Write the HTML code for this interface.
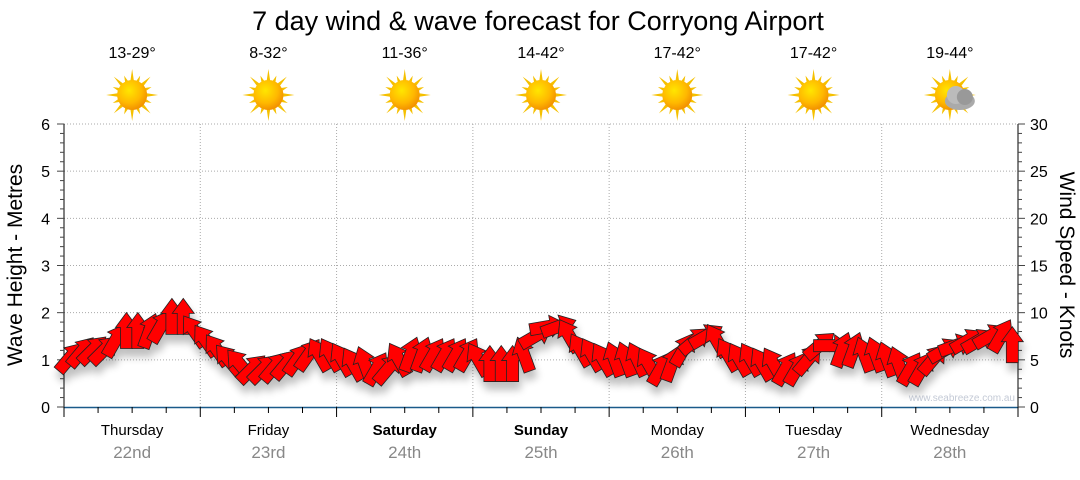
<!DOCTYPE html>
<html><head><meta charset="utf-8"><style>
body{margin:0;background:#fff;width:1080px;height:475px;overflow:hidden;font-family:"Liberation Sans","DejaVu Sans",sans-serif}
</style></head><body>
<svg id="chart" width="1080" height="475" xmlns="http://www.w3.org/2000/svg">
<defs>
<radialGradient id="sunG" cx="40%" cy="35%" r="70%"><stop offset="0" stop-color="#ffe600"/><stop offset="0.6" stop-color="#ffb800"/><stop offset="1" stop-color="#f08a00"/></radialGradient>
<filter id="sh" x="-50%" y="-50%" width="200%" height="200%"><feGaussianBlur in="SourceAlpha" stdDeviation="4"/><feOffset dx="2" dy="8"/><feComponentTransfer><feFuncA type="linear" slope="0.25"/></feComponentTransfer><feMerge><feMergeNode/><feMergeNode in="SourceGraphic"/></feMerge></filter>
</defs>
<text x="538" y="30" font-size="27" text-anchor="middle" fill="#000">7 day wind &amp; wave forecast for Corryong Airport</text>
<g id="grid"></g><g id="axes"></g><g id="top"></g>
<text x="1015" y="401" font-size="10" text-anchor="end" fill="#c4cad6">www.seabreeze.com.au</text>
<g id="arrows" filter="url(#sh)"></g>
<text transform="translate(22,265) rotate(-90)" font-size="21" text-anchor="middle">Wave Height - Metres</text>
<text transform="translate(1060,265) rotate(90)" font-size="21" text-anchor="middle">Wind Speed - Knots</text>
</svg>
<script>
const days=["Thursday","Friday","Saturday","Sunday","Monday","Tuesday","Wednesday"];
const dates=["22nd","23rd","24th","25th","26th","27th","28th"];
const boldDays=[false,false,true,true,false,false,false];
const temps=["13-29°","8-32°","11-36°","14-42°","17-42°","17-42°","19-44°"];
const cloudy=[false,false,false,false,false,false,true];
const waveTicks=[0,1,2,3,4,5,6];
const windTicks=[0,5,10,15,20,25,30];
const windSpeed=[5.2,5.8,6,6,7,8,8,8,8.5,9.5,9.5,8,
7,6,5,4.5,4,4,4.2,4.5,5,5.5,5.5,5.5,
5,4.5,4.5,4,4,5,5.5,5.5,5.5,5.5,5.5,5.5,
5,4.5,4.5,4.5,5.5,7.5,8.5,8.5,7.5,6,5.5,5,
5,5,5,4.5,4,4.5,6,7,7.5,7,5.5,5,
5,4.5,4.5,4,4,5,6.5,6.5,6,6,5.5,5.5,
5,4.5,4,4,5,6,6.5,7,7,7.5,7.5,6.5];
const windDir=[40,40,45,45,30,0,0,20,30,0,0,-35,
-35,-35,-40,-40,45,45,40,40,35,35,-30,-30,
-30,-30,-20,30,40,-30,20,20,30,30,30,30,
-30,0,0,0,-20,60,80,70,-30,-30,-30,-30,
-20,-20,-25,-30,30,20,30,50,60,-30,-30,-30,
-30,-30,-30,30,30,40,50,90,20,20,-20,-20,
-20,-20,30,30,40,60,70,60,60,60,30,0];
const NS="http://www.w3.org/2000/svg";
const X0=64,X1=1018,Y0=407,Y6=124;
const dayW=(X1-X0)/7;
const yWave=v=>Y0-(Y0-Y6)*v/6;
const yWind=v=>Y0-(Y0-Y6)*v/30;
const xHour=h=>X0+dayW*h/24;
function mk(tag,attrs,parent,txt){const e=document.createElementNS(NS,tag);for(const k in attrs)e.setAttribute(k,attrs[k]);if(txt!==undefined)e.textContent=txt;document.getElementById(parent).appendChild(e);return e;}
waveTicks.forEach(v=>{if(v>0){const l=mk('line',{x1:X0,x2:X1,y1:yWave(v),y2:yWave(v),stroke:'#aaa','stroke-dasharray':'1,2'},'grid');

}});
for(let d=1;d<7;d++){const l=mk('line',{x1:X0+d*dayW,x2:X0+d*dayW,y1:Y6,y2:Y0,stroke:'#aaa','stroke-dasharray':'1,2'},'grid');

}
mk('line',{x1:X0,x2:X0,y1:Y6,y2:Y0,stroke:'#000'},'axes');
mk('line',{x1:X1,x2:X1,y1:Y6,y2:Y0,stroke:'#000'},'axes');
const base=mk('line',{x1:X0,x2:X1,y1:Y0+0.5,y2:Y0+0.5,stroke:'#1a5a8a','stroke-width':1.5},'axes');


for(let i=0;i<=30;i++){const y=yWind(i);mk('line',{x1:X0-(i%5?4:7),x2:X0,y1:y,y2:y,stroke:'#444'},'axes');mk('line',{x1:X1,x2:X1+(i%5?4:7),y1:y,y2:y,stroke:'#444'},'axes');}
waveTicks.forEach(v=>{const t=mk('text',{x:50,y:yWave(v)+6,'font-size':16,'text-anchor':'end'},'axes',String(v));

});
windTicks.forEach(v=>{const t=mk('text',{x:1030,y:yWind(v)+6,'font-size':16},'axes',String(v));

});
for(let h=0;h<=168;h+=6){const x=xHour(h);mk('line',{x1:x,x2:x,y1:Y0,y2:Y0+(h%24?6:10),stroke:'#000'},'axes');}
days.forEach((d,i)=>{const cx=X0+dayW*(i+0.5);
const t=mk('text',{x:cx,y:435,'font-size':15,'text-anchor':'middle','font-weight':boldDays[i]?'bold':'normal'},'axes',d);


const t2=mk('text',{x:cx,y:458,'font-size':17,'text-anchor':'middle',fill:'#888'},'axes',dates[i]);


const t3=mk('text',{x:cx,y:58,'font-size':16,'text-anchor':'middle'},'top',temps[i]);


const g=mk('g',{transform:`translate(${cx},95)`},'top');


let rays='';for(let r=0;r<16;r++){const a=r*Math.PI/8,L=r%2?21:26;const p1=[Math.cos(a)*L,Math.sin(a)*L],p2=[Math.cos(a+0.15)*13,Math.sin(a+0.15)*13],p3=[Math.cos(a-0.15)*13,Math.sin(a-0.15)*13];rays+=`<polygon points="${p1} ${p2} ${p3}" fill="#f5c000"/>`;}
g.innerHTML=rays+'<circle r="15" fill="url(#sunG)"/>'+(cloudy[i]?'<ellipse cx="10" cy="6" rx="15" ry="9" fill="#aaa"/><circle cx="6" cy="0" r="9" fill="#bbb"/><circle cx="15" cy="2" r="8" fill="#999"/>':'');});
windSpeed.forEach((v,i)=>{const x=xHour(i*2+1),y=yWind(v);
const p=mk('polygon',{points:'0,-19 11,-4 6,-4 6,17 -6,17 -6,-4 -11,-4',fill:'#f00',stroke:'#222','stroke-width':0.8,transform:`translate(${x},${y}) rotate(${windDir[i]})`},'arrows');

});
</script>
</body></html>
